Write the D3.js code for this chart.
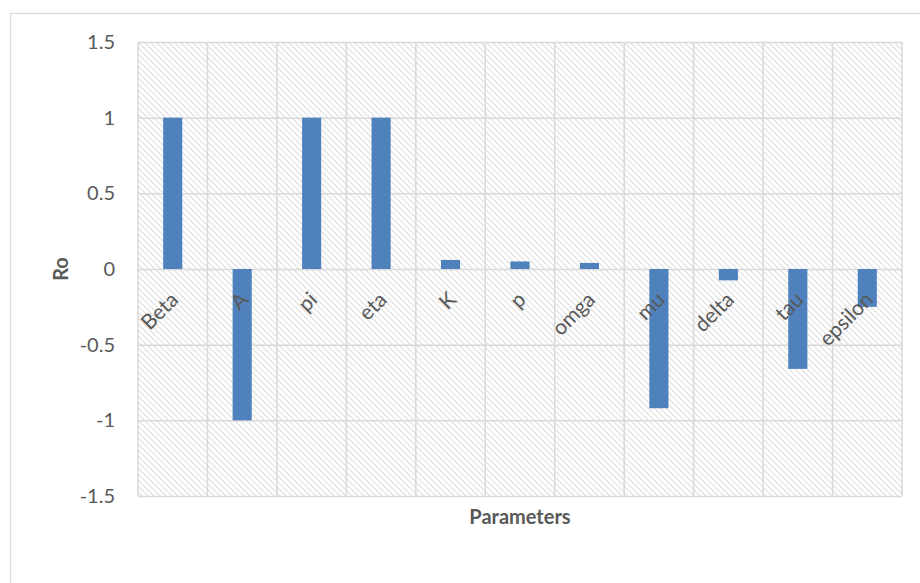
<!DOCTYPE html>
<html>
<head>
<meta charset="utf-8">
<script src="https://cdn.jsdelivr.net/npm/d3@7"></script>
<style>
  html, body { margin: 0; padding: 0; background: #fff; }
  svg { display: block; }
</style>
</head>
<body>
<svg id="chart" width="920" height="583"></svg>
<script>
// Sensitivity of Ro to each model parameter
const parameters = ["Beta", "A", "pi", "eta", "K", "p", "omga", "mu", "delta", "tau", "epsilon"];
const roValues   = [1, -1, 1, 1, 0.06, 0.05, 0.04, -0.92, -0.075, -0.66, -0.25];
const yTicks     = [-1.5, -1, -0.5, 0, 0.5, 1, 1.5];

const svg = d3.select("#chart");
const W = 920, H = 583;
const plot = { left: 138, right: 902, top: 42, bottom: 496 };
const font = "Lato, 'Open Sans', sans-serif";
const gridColor = "#d9d9d9";

// Outer chart frame
svg.append("rect")
  .attr("x", 10.5).attr("y", 13.5)
  .attr("width", W).attr("height", H)
  .attr("fill", "#fff")
  .attr("stroke", gridColor).attr("stroke-width", 1.3);

// Diagonal hatch fill for the plot area
const defs = svg.append("defs");
const pat = defs.append("pattern")
  .attr("id", "hatch")
  .attr("patternUnits", "userSpaceOnUse")
  .attr("width", 6).attr("height", 6);
pat.append("rect").attr("width", 6).attr("height", 6).attr("fill", "#fff");
pat.append("path")
  .attr("d", "M-1,-1 L7,7 M-1,5 L1,7 M5,-1 L7,1")
  .attr("stroke", "#e3e3e3")
  .attr("stroke-width", 1.3);

const x = d3.scaleBand()
  .domain(parameters)
  .range([plot.left, plot.right])
  .paddingInner(0).paddingOuter(0);

const y = d3.scaleLinear()
  .domain([-1.5, 1.5])
  .range([plot.bottom, plot.top]);

svg.append("rect")
  .attr("x", plot.left).attr("y", plot.top)
  .attr("width", plot.right - plot.left)
  .attr("height", plot.bottom - plot.top)
  .attr("fill", "url(#hatch)");

// Horizontal gridlines with tick labels (plain hyphen for negatives)
const yAxis = d3.axisLeft(y)
  .tickValues(yTicks)
  .tickSize(-(plot.right - plot.left))
  .tickPadding(23)
  .tickFormat(d => String(d));

const gy = svg.append("g")
  .attr("transform", `translate(${plot.left},0)`)
  .call(yAxis);
gy.select(".domain").remove();
gy.selectAll(".tick line")
  .attr("stroke", gridColor).attr("stroke-width", 1.5);
gy.selectAll(".tick text")
  .attr("fill", "#595959")
  .style("font-family", font)
  .style("font-size", "20px");

// Vertical gridlines at category boundaries
const bounds = parameters.map(p => x(p)).concat([plot.right]);
svg.append("g").selectAll("line")
  .data(bounds)
  .join("line")
  .attr("x1", d => d).attr("x2", d => d)
  .attr("y1", plot.top).attr("y2", plot.bottom)
  .attr("stroke", gridColor).attr("stroke-width", 1.5);

// Bars
const barW = x.bandwidth() * 0.275;
svg.append("g").selectAll("rect")
  .data(parameters.map((p, i) => ({ p, v: roValues[i] })))
  .join("rect")
  .attr("x", d => x(d.p) + x.bandwidth() / 2 - barW / 2)
  .attr("width", barW)
  .attr("y", d => y(Math.max(0, d.v)))
  .attr("height", d => Math.abs(y(d.v) - y(0)))
  .attr("fill", "#4f81bd");

// Category labels, rotated beside the zero line
const xAxis = d3.axisBottom(x).tickSize(0).tickPadding(0);
const gx = svg.append("g")
  .attr("transform", `translate(0,${y(0)})`)
  .call(xAxis);
gx.select(".domain").remove();
gx.selectAll(".tick text")
  .attr("fill", "#595959")
  .style("font-family", font)
  .style("font-size", "21px")
  .attr("text-anchor", "end")
  .attr("dy", "0")
  .attr("y", 0)
  .attr("transform", "translate(7,32) rotate(-45)");

// Axis titles
svg.append("text")
  .attr("x", (plot.left + plot.right) / 2)
  .attr("y", 524)
  .attr("text-anchor", "middle")
  .attr("fill", "#595959")
  .style("font-family", font)
  .style("font-size", "20px")
  .style("font-weight", "bold")
  .text("Parameters");

svg.append("text")
  .attr("transform", `translate(68,${y(0)}) rotate(-90)`)
  .attr("text-anchor", "middle")
  .attr("fill", "#595959")
  .style("font-family", font)
  .style("font-size", "20px")
  .style("font-weight", "bold")
  .text("Ro");
</script>
</body>
</html>
